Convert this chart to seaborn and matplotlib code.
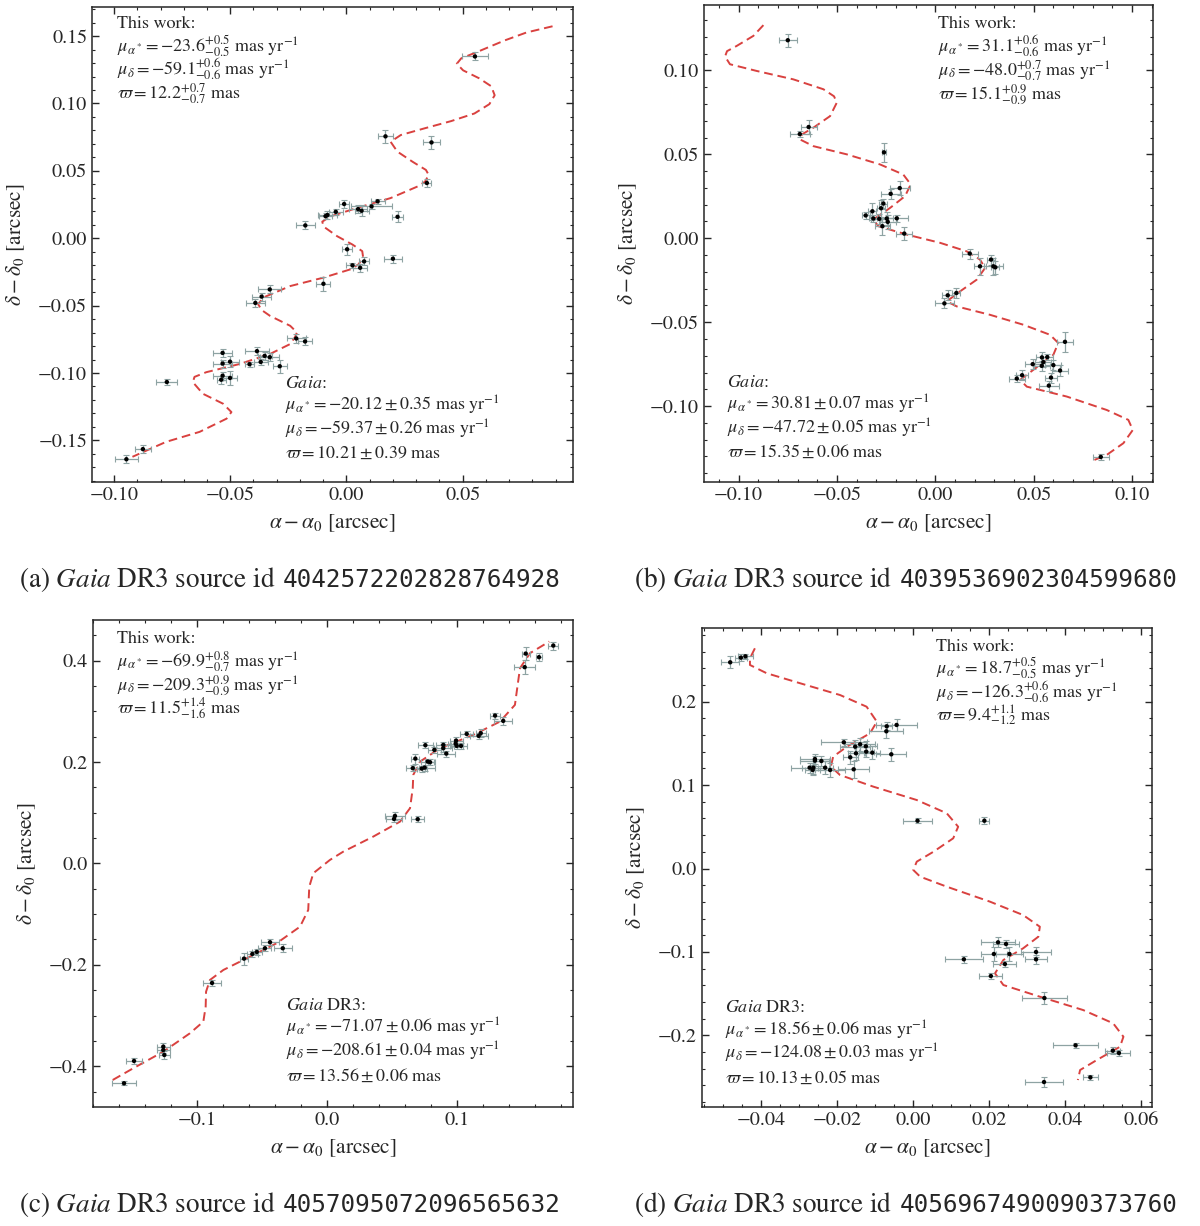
import numpy as np
import pandas as pd
import matplotlib
matplotlib.use("Agg")
import matplotlib.pyplot as plt
from matplotlib.ticker import MultipleLocator, FuncFormatter
import seaborn as sns

# ---- panel (a) ----
a_ra = [0.0553, 0.0168, 0.0366, 0.0346, 0.0134, 0.0108, -0.001, 0.005, 0.0065, -0.0046,
        -0.0082, -0.009, 0.022, -0.0177, 0.0003, 0.0076, 0.020, 0.0026, 0.0059, -0.0099,
        -0.033, -0.0365, -0.0392, -0.0216, -0.0178, -0.0385, -0.0533, -0.0352, -0.033, -0.0533,
        -0.0501, -0.0369, -0.0417, -0.0287, -0.0533, -0.0539, -0.0501, -0.0773, -0.0876, -0.0947]
a_dec = [0.1349, 0.0756, 0.0711, 0.041, 0.0274, 0.0236, 0.0254, 0.0216, 0.0204, 0.0196,
         0.0172, 0.0164, 0.0159, 0.0095, -0.0082, -0.0172, -0.0152, -0.0201, -0.0219, -0.0338,
         -0.038, -0.0433, -0.048, -0.0744, -0.0766, -0.0838, -0.0851, -0.0873, -0.0883, -0.093,
         -0.0916, -0.0918, -0.0935, -0.095, -0.102, -0.105, -0.1037, -0.1067, -0.1565, -0.164]
a_ra_err = [0.0055, 0.0031, 0.0038, 0.002, 0.003, 0.009, 0.002, 0.004, 0.003, 0.003,
            0.004, 0.003, 0.0025, 0.004, 0.002, 0.002, 0.004, 0.003, 0.003, 0.003,
            0.005, 0.004, 0.004, 0.004, 0.003, 0.005, 0.004, 0.003, 0.004, 0.004,
            0.004, 0.003, 0.002, 0.003, 0.004, 0.002, 0.003, 0.0045, 0.0035, 0.005]
a_dec_err = [0.003, 0.0047, 0.0048, 0.003, 0.002, 0.002, 0.003, 0.003, 0.004, 0.002,
             0.003, 0.002, 0.004, 0.003, 0.004, 0.003, 0.003, 0.002, 0.003, 0.005,
             0.003, 0.003, 0.003, 0.003, 0.003, 0.003, 0.003, 0.003, 0.003, 0.003,
             0.004, 0.002, 0.002, 0.005, 0.003, 0.003, 0.005, 0.002, 0.003, 0.003]
a_model_ra = [0.0887, 0.0775, 0.0681, 0.0558, 0.0494, 0.0475, 0.0502, 0.0571, 0.0623, 0.0638,
              0.0615, 0.0551, 0.0450, 0.0335, 0.0234, 0.0190, 0.0219, 0.0286, 0.0342, 0.0354,
              0.0338, 0.0306, 0.0190, 0.0046, -0.0069, -0.0104, -0.0098, -0.0040, 0.0026, 0.0068,
              0.0072, 0.0052, 0.0017, -0.0098, -0.0242, -0.0358, -0.0380, -0.0364, -0.0329, -0.0242,
              -0.0213, -0.0221, -0.0242, -0.0329, -0.0459, -0.0603, -0.0654, -0.0661, -0.0618, -0.0531,
              -0.0495, -0.0516, -0.0632, -0.0776, -0.0921]
a_model_dec = [0.1573, 0.1527, 0.1468, 0.1379, 0.1335, 0.1295, 0.1246, 0.1187, 0.1128, 0.1061,
               0.0995, 0.0926, 0.0869, 0.0815, 0.0766, 0.0716, 0.0643, 0.0566, 0.0507, 0.0470,
               0.0419, 0.0384, 0.0298, 0.0225, 0.0162, 0.0123, 0.0086, 0.0015, -0.0047, -0.0096,
               -0.0143, -0.0194, -0.0231, -0.0292, -0.0355, -0.0440, -0.0490, -0.0534, -0.0576, -0.0650,
               -0.0699, -0.0733, -0.0785, -0.0859, -0.0933, -0.0994, -0.1029, -0.1068, -0.1154, -0.1228,
               -0.1290, -0.1339, -0.1437, -0.1511, -0.1622]
a_fit = [r"$\mu_{\alpha^*} = -23.6^{+0.5}_{-0.5}$ mas yr$^{-1}$",
         r"$\mu_{\delta} = -59.1^{+0.6}_{-0.6}$ mas yr$^{-1}$",
         r"$\varpi = 12.2^{+0.7}_{-0.7}$ mas"]
a_gaia = [r"$\mu_{\alpha^*} = -20.12 \pm 0.35$ mas yr$^{-1}$",
          r"$\mu_{\delta} = -59.37 \pm 0.26$ mas yr$^{-1}$",
          r"$\varpi = 10.21 \pm 0.39$ mas"]
a_id = "4042572202828764928"

# ---- panel (b) ----
b_ra = [-0.0750, -0.0644, -0.0689, -0.0261, -0.0181, -0.0227, -0.0264, -0.0276, -0.0320, -0.0354,
        -0.0315, -0.0285, -0.0247, -0.0196, -0.0242, -0.0269, -0.0158, 0.0175, 0.0283, 0.0227,
        0.0295, 0.0305, 0.0107, 0.0063, 0.0046, 0.0659, 0.0542, 0.0569, 0.0549, 0.0495,
        0.0541, 0.0600, 0.0634, 0.0441, 0.0414, 0.0588, 0.0577, 0.0841]
b_dec = [0.1180, 0.0663, 0.0621, 0.0512, 0.0299, 0.0265, 0.0207, 0.0179, 0.0161, 0.0136,
         0.0118, 0.0116, 0.0118, 0.0119, 0.0098, 0.0072, 0.0028, -0.0091, -0.0127, -0.0167,
         -0.0167, -0.0173, -0.0326, -0.0340, -0.0388, -0.0617, -0.0710, -0.0708, -0.0738, -0.0750,
         -0.0760, -0.0756, -0.0788, -0.0816, -0.0836, -0.0830, -0.0878, -0.1303]
b_ra_err = [0.0047, 0.004, 0.005, 0.001, 0.005, 0.005, 0.002, 0.002, 0.002, 0.002,
            0.002, 0.004, 0.003, 0.0055, 0.004, 0.004, 0.004, 0.004, 0.002, 0.003,
            0.005, 0.002, 0.002, 0.003, 0.005, 0.004, 0.003, 0.003, 0.004, 0.004,
            0.004, 0.004, 0.004, 0.003, 0.004, 0.003, 0.005, 0.004]
b_dec_err = [0.004, 0.004, 0.002, 0.0055, 0.004, 0.003, 0.003, 0.005, 0.005, 0.002,
             0.002, 0.003, 0.004, 0.002, 0.004, 0.005, 0.004, 0.003, 0.003, 0.005,
             0.005, 0.004, 0.003, 0.003, 0.003, 0.006, 0.003, 0.002, 0.003, 0.003,
             0.003, 0.003, 0.003, 0.003, 0.002, 0.003, 0.003, 0.002]
b_model_ra = [-0.0874, -0.0925, -0.1010, -0.1059, -0.1069, -0.1044, -0.0908, -0.0722, -0.0569, -0.0515,
              -0.0501, -0.0535, -0.0620, -0.0678, -0.0688, -0.0620, -0.0450, -0.0281, -0.0163, -0.0125,
              -0.0154, -0.0230, -0.0315, -0.0290, -0.0145, 0.0024, 0.0160, 0.0227, 0.0253, 0.0210,
              0.0126, 0.0058, 0.0109, 0.0278, 0.0447, 0.0583, 0.0625, 0.0600, 0.0498, 0.0431,
              0.0465, 0.0668, 0.0871, 0.0981, 0.1004, 0.0956, 0.0871, 0.0808]
b_model_dec = [0.1270, 0.1206, 0.1146, 0.1115, 0.1083, 0.1037, 0.0997, 0.0947, 0.0888, 0.0846,
               0.0808, 0.0728, 0.0659, 0.0619, 0.0589, 0.0549, 0.0500, 0.0440, 0.0380, 0.0321,
               0.0251, 0.0181, 0.0112, 0.0072, 0.0022, -0.0027, -0.0078, -0.0127, -0.0177, -0.0247,
               -0.0316, -0.0376, -0.0406, -0.0456, -0.0515, -0.0575, -0.0624, -0.0694, -0.0784, -0.0844,
               -0.0884, -0.0943, -0.1023, -0.1082, -0.1142, -0.1221, -0.1291, -0.1321]
b_fit = [r"$\mu_{\alpha^*} = 31.1^{+0.6}_{-0.6}$ mas yr$^{-1}$",
         r"$\mu_{\delta} = -48.0^{+0.7}_{-0.7}$ mas yr$^{-1}$",
         r"$\varpi = 15.1^{+0.9}_{-0.9}$ mas"]
b_gaia = [r"$\mu_{\alpha^*} = 30.81 \pm 0.07$ mas yr$^{-1}$",
          r"$\mu_{\delta} = -47.72 \pm 0.05$ mas yr$^{-1}$",
          r"$\varpi = 15.35 \pm 0.06$ mas"]
b_id = "4039536902304599680"

# ---- panel (c) ----
c_ra = [0.1743, 0.1531, 0.1633, 0.1523, 0.1295, 0.1358, 0.1077, 0.1185, 0.1169, 0.0995,
        0.0992, 0.0897, 0.0759, 0.1000, 0.1033, 0.0897, 0.0828, 0.0920, 0.0682, 0.0777,
        0.0795, 0.0662, 0.0731, 0.0754, 0.0525, 0.0518, 0.0700, -0.0436, -0.0338, -0.0475,
        -0.0538, -0.0572, -0.0636, -0.0882, -0.1257, -0.1257, -0.1249, -0.1482, -0.1559]
c_dec = [0.4296, 0.4138, 0.4067, 0.3870, 0.2915, 0.2811, 0.2554, 0.2568, 0.2515, 0.2422,
         0.2363, 0.2337, 0.2331, 0.2318, 0.2318, 0.2272, 0.2239, 0.2166, 0.2067, 0.2008,
         0.1996, 0.1878, 0.1870, 0.1890, 0.0937, 0.0878, 0.0872, -0.1554, -0.1673, -0.1673,
         -0.1746, -0.1785, -0.1877, -0.2357, -0.3613, -0.3679, -0.3777, -0.3895, -0.4335]
c_ra_err = [0.004, 0.003, 0.002, 0.0083, 0.004, 0.007, 0.005, 0.004, 0.007, 0.005,
            0.006, 0.006, 0.006, 0.005, 0.005, 0.007, 0.005, 0.007, 0.003, 0.005,
            0.004, 0.005, 0.004, 0.008, 0.008, 0.006, 0.005, 0.007, 0.007, 0.005,
            0.004, 0.004, 0.003, 0.007, 0.005, 0.005, 0.004, 0.006, 0.009]
c_dec_err = [0.008, 0.012, 0.008, 0.014, 0.006, 0.008, 0.006, 0.008, 0.006, 0.008,
             0.006, 0.006, 0.006, 0.006, 0.006, 0.008, 0.006, 0.006, 0.010, 0.006,
             0.006, 0.006, 0.006, 0.006, 0.008, 0.006, 0.006, 0.006, 0.008, 0.006,
             0.006, 0.006, 0.012, 0.006, 0.008, 0.006, 0.008, 0.006, 0.004]
c_model_ra = [-0.1646, -0.1488, -0.1257, -0.1052, -0.0949, -0.0931, -0.0928, -0.0898, -0.0795, -0.0590,
              -0.0385, -0.0205, -0.0142, -0.0134, -0.0103, 0.0025, 0.0128, 0.0358, 0.0564, 0.0641,
              0.0662, 0.0666, 0.0718, 0.0872, 0.1128, 0.1333, 0.1448, 0.1469, 0.1487, 0.1564, 0.1712]
c_model_dec = [-0.4270, -0.4039, -0.3712, -0.3349, -0.3120, -0.2824, -0.2529, -0.2298, -0.2101, -0.1838,
               -0.1574, -0.1247, -0.0917, -0.0458, -0.0193, 0.0069, 0.0233, 0.0529, 0.0824, 0.1089,
               0.1483, 0.1746, 0.2008, 0.2272, 0.2535, 0.2797, 0.3126, 0.3521, 0.3850, 0.4146, 0.4375]
c_fit = [r"$\mu_{\alpha^*} = -69.9^{+0.8}_{-0.7}$ mas yr$^{-1}$",
         r"$\mu_{\delta} = -209.3^{+0.9}_{-0.9}$ mas yr$^{-1}$",
         r"$\varpi = 11.5^{+1.4}_{-1.6}$ mas"]
c_gaia = [r"$\mu_{\alpha^*} = -71.07 \pm 0.06$ mas yr$^{-1}$",
          r"$\mu_{\delta} = -208.61 \pm 0.04$ mas yr$^{-1}$",
          r"$\varpi = 13.56 \pm 0.06$ mas"]
c_id = "4057095072096565632"

# ---- panel (d) ----
d_ra = [-0.0482, -0.0454, -0.0442, -0.0044, -0.0070, -0.0071, -0.0183, -0.0140, -0.0153, -0.0125,
        -0.0124, -0.0108, -0.0151, -0.0058, -0.0166, -0.0259, -0.0259, -0.0242, -0.0273, -0.0263,
        -0.0265, -0.0232, -0.0219, -0.0157, 0.0011, 0.0187, 0.0223, 0.0244, 0.0323, 0.0212,
        0.0253, 0.0323, 0.0133, 0.0241, 0.0204, 0.0345, 0.0427, 0.0525, 0.0541, 0.0466, 0.0344]
d_dec = [0.2472, 0.2528, 0.2544, 0.1721, 0.1705, 0.1645, 0.1513, 0.1489, 0.1461, 0.1465,
         0.1401, 0.1389, 0.1381, 0.1369, 0.1333, 0.1313, 0.1293, 0.1289, 0.1209, 0.1209,
         0.1181, 0.1209, 0.1181, 0.1189, 0.0573, 0.0573, -0.0885, -0.0905, -0.1001, -0.1025,
         -0.1025, -0.1089, -0.1089, -0.1145, -0.1289, -0.1553, -0.2120, -0.2184, -0.2212, -0.2504, -0.2560]
d_ra_err = [0.0024, 0.0015, 0.0020, 0.0053, 0.0015, 0.0045, 0.006, 0.004, 0.004, 0.003,
            0.002, 0.002, 0.002, 0.004, 0.002, 0.004, 0.004, 0.002, 0.005, 0.003,
            0.002, 0.002, 0.004, 0.004, 0.0037, 0.0013, 0.0045, 0.0035, 0.004, 0.0035,
            0.0035, 0.003, 0.005, 0.003, 0.003, 0.006, 0.006, 0.002, 0.003, 0.002, 0.005]
d_dec_err = [0.007, 0.004, 0.003, 0.007, 0.005, 0.008, 0.004, 0.008, 0.008, 0.006,
             0.006, 0.008, 0.008, 0.008, 0.008, 0.006, 0.006, 0.006, 0.006, 0.008,
             0.006, 0.008, 0.008, 0.010, 0.003, 0.004, 0.006, 0.005, 0.006, 0.008,
             0.008, 0.005, 0.004, 0.004, 0.004, 0.007, 0.003, 0.004, 0.004, 0.003, 0.006]
d_model_ra = [-0.0417, -0.0430, -0.0430, -0.0386, -0.0298, -0.0193, -0.0123, -0.0096, -0.0114, -0.0175,
              -0.0211, -0.0217, -0.0193, -0.0105, 0.0009, 0.0088, 0.0118, 0.0105, 0.0053, 0.0009,
              0.0000, 0.0018, 0.0088, 0.0202, 0.0289, 0.0333, 0.0329, 0.0289, 0.0237, 0.0215,
              0.0237, 0.0333, 0.0447, 0.0526, 0.0553, 0.0544, 0.0483, 0.0439, 0.0433]
d_model_dec = [0.2640, 0.2520, 0.2440, 0.2341, 0.2221, 0.2080, 0.1940, 0.1760, 0.1621, 0.1460,
               0.1341, 0.1221, 0.1121, 0.0981, 0.0821, 0.0662, 0.0501, 0.0362, 0.0201, 0.0082,
               -0.0018, -0.0098, -0.0218, -0.0398, -0.0558, -0.0698, -0.0818, -0.0957, -0.1097, -0.1257,
               -0.1397, -0.1537, -0.1697, -0.1856, -0.2017, -0.2137, -0.2296, -0.2416, -0.2536]
d_fit = [r"$\mu_{\alpha^*} = 18.7^{+0.5}_{-0.5}$ mas yr$^{-1}$",
         r"$\mu_{\delta} = -126.3^{+0.6}_{-0.6}$ mas yr$^{-1}$",
         r"$\varpi = 9.4^{+1.1}_{-1.2}$ mas"]
d_gaia = [r"$\mu_{\alpha^*} = 18.56 \pm 0.06$ mas yr$^{-1}$",
          r"$\mu_{\delta} = -124.08 \pm 0.03$ mas yr$^{-1}$",
          r"$\varpi = 10.13 \pm 0.05$ mas"]
d_id = "4056967490090373760"

sns.set_style("ticks")
plt.rcParams.update({
    "font.family": ["STIXGeneral", "DejaVu Serif"],
    "mathtext.fontset": "stix",
    "font.size": 13,
    "axes.linewidth": 1.1,
    "xtick.direction": "in", "ytick.direction": "in",
    "xtick.top": True, "ytick.right": True,
    "xtick.major.size": 5, "ytick.major.size": 5,
    "xtick.minor.size": 2.5, "ytick.minor.size": 2.5,
    "xtick.major.width": 1.0, "ytick.major.width": 1.0,
    "xtick.minor.width": 0.8, "ytick.minor.width": 0.8,
    "xtick.labelsize": 14.5, "ytick.labelsize": 14.5,
    "axes.labelsize": 15.5,
})

W, H = 1200, 1226
fig = plt.figure(figsize=(W / 100, H / 100), dpi=100)


def px_axes(left, top, right, bottom):
    return fig.add_axes([left / W, 1 - bottom / H, (right - left) / W, (bottom - top) / H])


def tick_fmt(fmt):
    def f(v, pos):
        if abs(v) < 1e-9:
            v = 0.0
        return (fmt % v).replace("-", "\u2212")
    return FuncFormatter(f)


panels = [
    dict(box=(92, 7, 573, 482), ra=a_ra, dec=a_dec, rae=a_ra_err, dece=a_dec_err,
         mra=a_model_ra, mdec=a_model_dec, xlim=(-0.1095, 0.0975), ylim=(-0.1809, 0.1716),
         xmaj=0.05, xmin=0.01, ymaj=0.05, ymin=0.01, xfmt="%.2f", yfmt="%.2f",
         fit=a_fit, gaia=a_gaia, gaia_head=r"$\mathit{Gaia}$:",
         fitpos=(0.052, [0.956, 0.906, 0.857, 0.807]),
         gaiapos=(0.401, [0.198, 0.149, 0.099, 0.050]),
         cap="(a)", sid=a_id, capx=21, capy=587),
    dict(box=(704, 5, 1152.7, 482.3), ra=b_ra, dec=b_dec, rae=b_ra_err, dece=b_dec_err,
         mra=b_model_ra, mdec=b_model_dec, xlim=(-0.1176, 0.1105), ylim=(-0.1454, 0.1390),
         xmaj=0.05, xmin=0.01, ymaj=0.05, ymin=0.01, xfmt="%.2f", yfmt="%.2f",
         fit=b_fit, gaia=b_gaia, gaia_head=r"$\mathit{Gaia}$:",
         fitpos=(0.521, [0.951, 0.902, 0.853, 0.803]),
         gaiapos=(0.052, [0.200, 0.151, 0.102, 0.053]),
         cap="(b)", sid=b_id, capx=638, capy=587),
    dict(box=(92.7, 620, 573.3, 1106.7), ra=c_ra, dec=c_dec, rae=c_ra_err, dece=c_dec_err,
         mra=c_model_ra, mdec=c_model_dec, xlim=(-0.180, 0.1897), ylim=(-0.4797, 0.480),
         xmaj=0.1, xmin=0.02, ymaj=0.2, ymin=0.05, xfmt="%.1f", yfmt="%.1f",
         fit=c_fit, gaia=c_gaia, gaia_head=r"$\mathit{Gaia}$ DR3:",
         fitpos=(0.050, [0.952, 0.904, 0.856, 0.807]),
         gaiapos=(0.402, [0.199, 0.151, 0.102, 0.054]),
         cap="(c)", sid=c_id, capx=21, capy=1212),
    dict(box=(701.7, 627.7, 1152.3, 1107.3), ra=d_ra, dec=d_dec, rae=d_ra_err, dece=d_dec_err,
         mra=d_model_ra, mdec=d_model_dec, xlim=(-0.0557, 0.0629), ylim=(-0.2863, 0.2887),
         xmaj=0.02, xmin=0.005, ymaj=0.1, ymin=0.02, xfmt="%.2f", yfmt="%.1f",
         fit=d_fit, gaia=d_gaia, gaia_head=r"$\mathit{Gaia}$ DR3:",
         fitpos=(0.521, [0.952, 0.903, 0.854, 0.805]),
         gaiapos=(0.052, [0.199, 0.150, 0.101, 0.052]),
         cap="(d)", sid=d_id, capx=638, capy=1212),
]

for p in panels:
    ax = px_axes(*p["box"])
    pts = pd.DataFrame({"ra": p["ra"], "dec": p["dec"]})
    model = pd.DataFrame({"ra": p["mra"], "dec": p["mdec"]})

    # model track
    sns.lineplot(data=model, x="ra", y="dec", sort=False, estimator=None, ax=ax,
                 color="#d9413f", lw=1.4, linestyle=(0, (4.5, 2.5)), zorder=2)
    # measurements
    ax.errorbar(p["ra"], p["dec"], xerr=p["rae"], yerr=p["dece"], fmt="none",
                ecolor="#8ea3a3", elinewidth=0.9, capsize=2, capthick=0.8, zorder=3)
    sns.scatterplot(data=pts, x="ra", y="dec", ax=ax, color="black", s=10,
                    edgecolor="none", zorder=4)

    ax.set_xlim(*p["xlim"])
    ax.set_ylim(*p["ylim"])
    ax.xaxis.set_major_locator(MultipleLocator(p["xmaj"]))
    ax.xaxis.set_minor_locator(MultipleLocator(p["xmin"]))
    ax.yaxis.set_major_locator(MultipleLocator(p["ymaj"]))
    ax.yaxis.set_minor_locator(MultipleLocator(p["ymin"]))
    ax.xaxis.set_major_formatter(tick_fmt(p["xfmt"]))
    ax.yaxis.set_major_formatter(tick_fmt(p["yfmt"]))
    ax.tick_params(which="both", top=True, right=True, direction="in")
    ax.set_xlabel(r"$\alpha-\alpha_0$ [arcsec]", labelpad=6)
    ax.set_ylabel(r"$\delta-\delta_0$ [arcsec]", labelpad=8)

    fx, fys = p["fitpos"]
    for txt, yy in zip(["This work:"] + p["fit"], fys):
        ax.text(fx, yy, txt, transform=ax.transAxes, va="baseline", ha="left", fontsize=13)
    gx, gys = p["gaiapos"]
    for txt, yy in zip([p["gaia_head"]] + p["gaia"], gys):
        ax.text(gx, yy, txt, transform=ax.transAxes, va="baseline", ha="left", fontsize=13)

    # caption below the panel: serif part ends just before the monospace id
    fig.text((p["capx"] + 254) / W, 1 - p["capy"] / H,
             p["cap"] + r" $\mathit{Gaia}$ DR3 source id",
             ha="right", va="baseline", fontsize=19.5)
    fig.text((p["capx"] + 262) / W, 1 - p["capy"] / H, p["sid"],
             ha="left", va="baseline", fontsize=17.5, family="DejaVu Sans Mono")

fig.savefig("out.png", dpi=100)
